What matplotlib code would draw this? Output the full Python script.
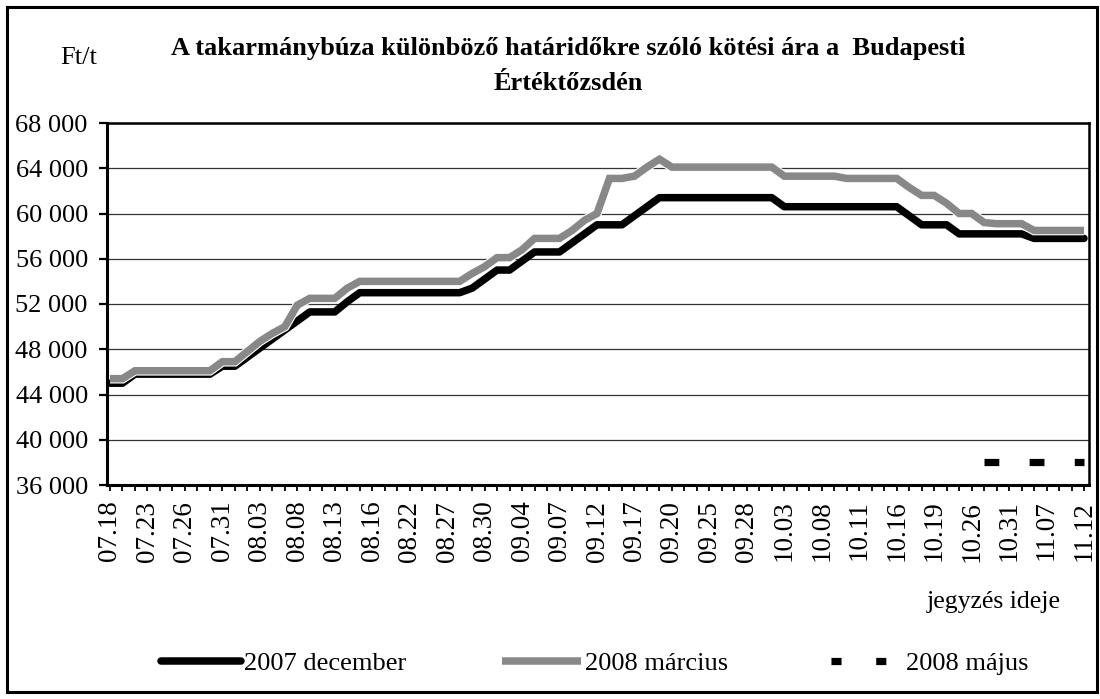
import matplotlib
matplotlib.use("Agg")
import matplotlib.pyplot as plt
import matplotlib.patheffects as pe
from matplotlib.patches import Rectangle
from matplotlib.lines import Line2D
import numpy as np

plt.rcParams['font.family'] = ['Liberation Serif', 'DejaVu Serif']

# ---- data ----
dates = ["07.18", "07.19", "07.20", "07.23", "07.24", "07.25", "07.26", "07.27", "07.30", "07.31",
         "08.01", "08.02", "08.03", "08.06", "08.07", "08.08", "08.09", "08.10", "08.13", "08.14",
         "08.15", "08.16", "08.17", "08.21", "08.22", "08.23", "08.24", "08.27", "08.28", "08.29",
         "08.30", "08.31", "09.03", "09.04", "09.05", "09.06", "09.07", "09.10", "09.11", "09.12",
         "09.13", "09.14", "09.17", "09.18", "09.19", "09.20", "09.21", "09.24", "09.25", "09.26",
         "09.27", "09.28", "10.01", "10.02", "10.03", "10.04", "10.05", "10.08", "10.09", "10.10",
         "10.11", "10.12", "10.15", "10.16", "10.17", "10.18", "10.19", "10.24", "10.25", "10.26",
         "10.29", "10.30", "10.31", "11.05", "11.06", "11.07", "11.08", "11.09", "11.12"]

dec2007 = [45000, 45000, 45800, 45800, 45800, 45800, 45800, 45800, 45800, 46500,
           46500, 47300, 48100, 48900, 49700, 50500, 51300, 51300, 51300, 52200,
           53000, 53000, 53000, 53000, 53000, 53000, 53000, 53000, 53000, 53400,
           54200, 55000, 55000, 55800, 56600, 56600, 56600, 57400, 58200, 59000,
           59000, 59000, 59800, 60600, 61400, 61400, 61400, 61400, 61400, 61400,
           61400, 61400, 61400, 61400, 60600, 60600, 60600, 60600, 60600, 60600,
           60600, 60600, 60600, 60600, 59800, 59000, 59000, 59000, 58200, 58200,
           58200, 58200, 58200, 58200, 57800, 57800, 57800, 57800, 57800]

mar2008 = [45400, 45400, 46100, 46100, 46100, 46100, 46100, 46100, 46100, 46900,
           46900, 47800, 48700, 49400, 50000, 51900, 52500, 52500, 52500, 53400,
           54000, 54000, 54000, 54000, 54000, 54000, 54000, 54000, 54000, 54700,
           55300, 56100, 56100, 56800, 57800, 57800, 57800, 58500, 59400, 60000,
           63100, 63100, 63300, 64100, 64800, 64100, 64100, 64100, 64100, 64100,
           64100, 64100, 64100, 64100, 63300, 63300, 63300, 63300, 63300, 63100,
           63100, 63100, 63100, 63100, 62300, 61600, 61600, 60900, 60000, 60000,
           59200, 59100, 59100, 59100, 58500, 58500, 58500, 58500, 58500]

maj2008_dates = ["10.29", "10.30", "10.31", "11.05", "11.06", "11.07", "11.08", "11.09", "11.12"]
maj2008 = [38000, 38000, 38000, 38000, 38000, 38000, 38000, 38000, 38000]

series_names = ["2007 december", "2008 március", "2008 május"]
yticks = [36000, 40000, 44000, 48000, 52000, 56000, 60000, 64000, 68000]
title_lines = ["A takarmánybúza különböző határidőkre szóló kötési ára a  Budapesti",
               "Értéktőzsdén"]

# ---- figure ----
W, H = 1100, 699
fig = plt.figure(figsize=(W / 100, H / 100), dpi=100)
ax = fig.add_axes([107 / W, 1 - 485 / H, 982 / W, 362 / H])

x = np.arange(len(dates))
x_maj = np.array([dates.index(d) for d in maj2008_dates])

lw = 5.4
gray = '#888888'
ax.plot(x, dec2007, color='black', lw=lw, solid_capstyle='round',
        solid_joinstyle='round', zorder=3, label=series_names[0])
ax.plot(x, mar2008, color=gray, lw=lw, solid_capstyle='butt',
        solid_joinstyle='miter', zorder=4, label=series_names[1],
        path_effects=[pe.Stroke(linewidth=lw + 1.6, foreground='white'), pe.Normal()])
ax.plot(x_maj, maj2008, color='black', lw=5.2, linestyle=(0, (2.05, 4.2)),
        dash_capstyle='butt', zorder=3, label=series_names[2])

ax.set_xlim(-0.24, len(dates) - 1 + 0.4)
ax.set_ylim(yticks[0], yticks[-1])
ax.set_yticks(yticks)
ax.set_yticklabels([f"{v:,}".replace(",", " ") for v in yticks], fontsize=19)
ax.set_xticks(x)
ax.set_xticklabels([d if i % 3 == 0 else "" for i, d in enumerate(dates)],
                   rotation=90, fontsize=19.5)
ax.grid(axis='y', color='#333333', lw=0.9, zorder=1)
ax.set_axisbelow(True)

ax.tick_params(axis='y', direction='out', length=5.8, width=1.6, pad=8, colors='black')
ax.tick_params(axis='x', direction='out', length=4.3, width=1.3, pad=7, colors='black')
for side in ['left', 'bottom']:
    ax.spines[side].set_linewidth(2.2)
for side in ['top', 'right']:
    ax.spines[side].set_linewidth(1.8)

# texts
fig.text(568 / W, 1 - 55 / H, title_lines[0], ha='center', va='baseline',
         fontsize=19, fontweight='bold')
fig.text(568 / W, 1 - 90 / H, title_lines[1], ha='center', va='baseline',
         fontsize=19, fontweight='bold')
fig.text(60 / W, 1 - 64 / H, "Ft/t", ha='left', va='baseline', fontsize=19)
fig.text(927 / W, 1 - 608 / H, "jegyzés ideje", ha='left', va='baseline', fontsize=18.5)

# legend
handles = [
    Line2D([], [], color='black', lw=lw, solid_capstyle='round'),
    Line2D([], [], color=gray, lw=lw, solid_capstyle='butt'),
    Line2D([], [], color='black', lw=5.2, linestyle=(5.1, (1.4, 4.8)), dash_capstyle='butt'),
]
leg = fig.legend(handles, series_names, loc='center', bbox_to_anchor=(595 / W, 1 - 663 / H),
                 ncol=3, frameon=False, fontsize=19, handlelength=3.0,
                 handletextpad=0.15, columnspacing=3.6, borderpad=0, borderaxespad=0)

# outer frame
fig.add_artist(Rectangle((7 / W, 1 - 692 / H), (1097 - 7) / W, (692 - 7) / H,
                         transform=fig.transFigure, fill=False, lw=2.2, ec='black'))

fig.savefig("out.png", dpi=100)
